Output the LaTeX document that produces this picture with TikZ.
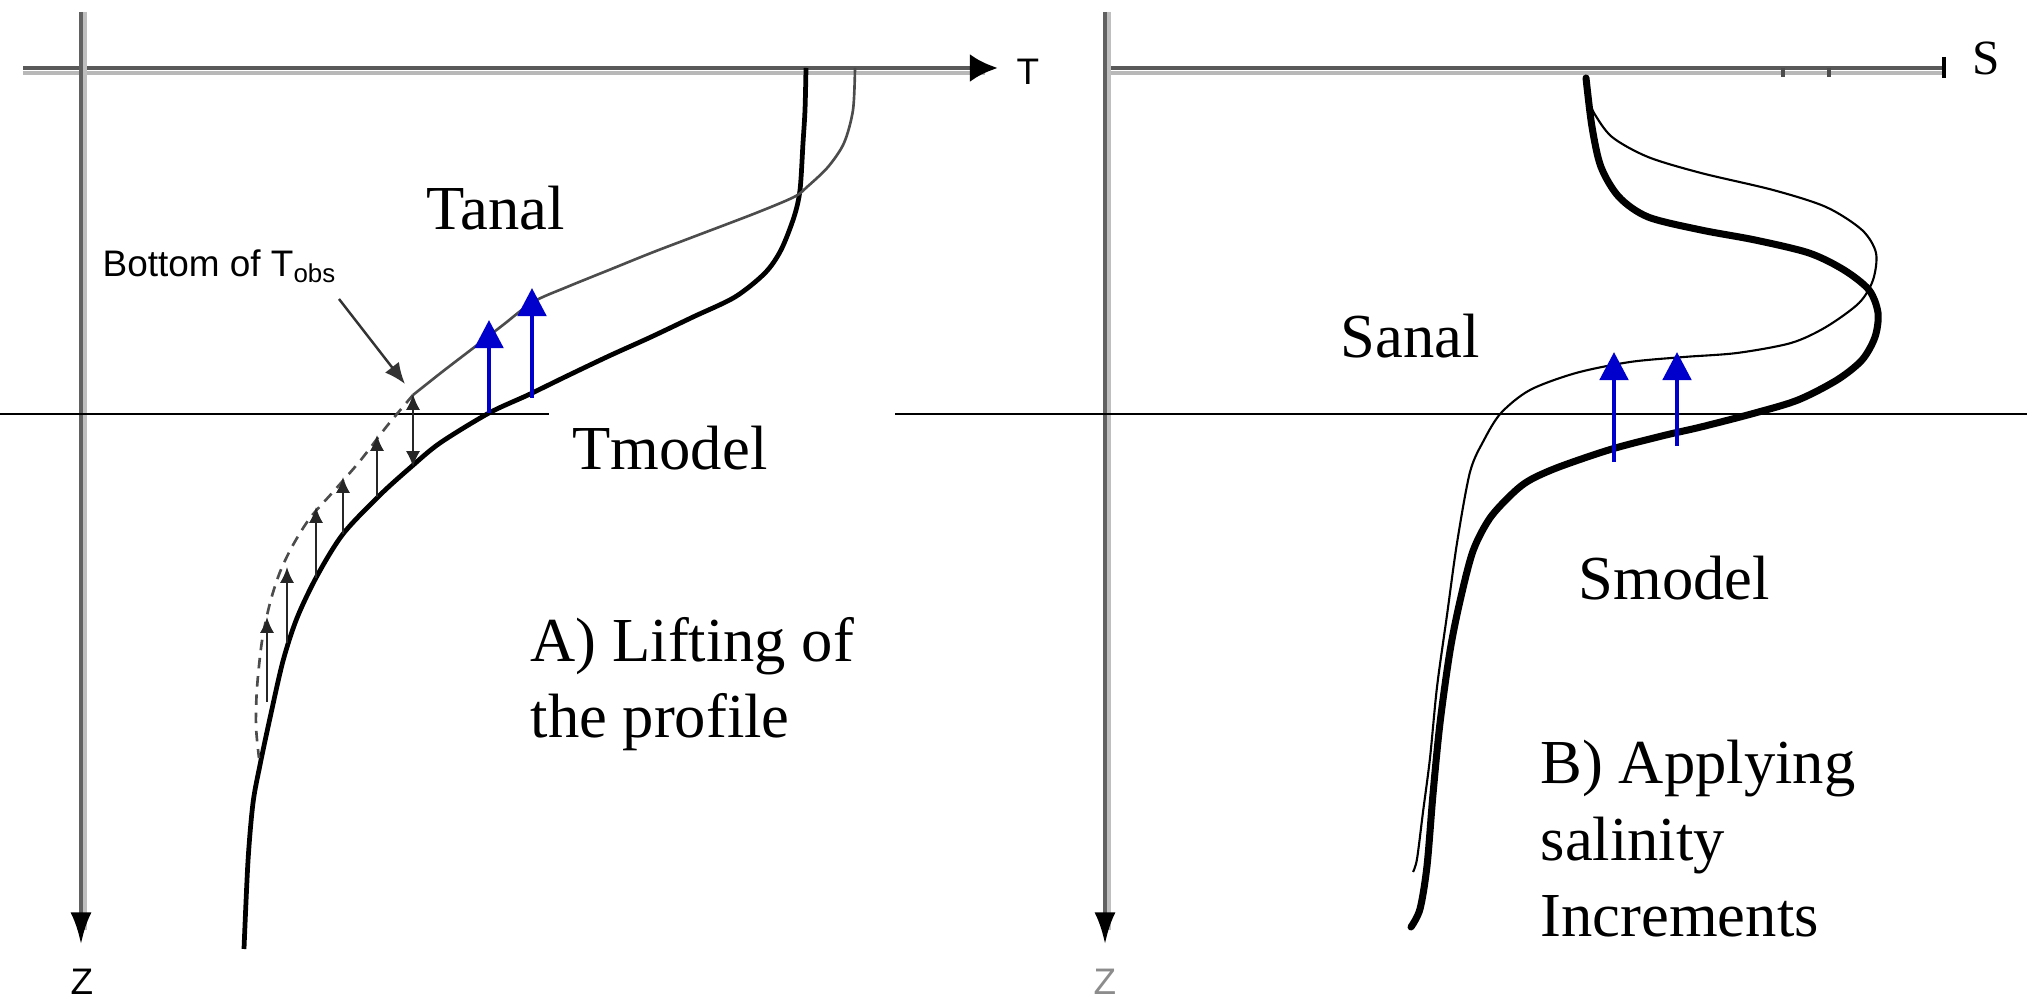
\documentclass[tikz,border=0pt]{standalone}
\usepackage{fontspec}
\setmainfont{Liberation Serif}
\newfontfamily\axisfont{Liberation Sans}
\usetikzlibrary{arrows.meta}
\definecolor{liftblue}{RGB}{0,0,205}
\tikzset{
  axisline/.style={draw=black!65, line width=1.4pt},
  axisband/.style={draw=black!28, line width=1.1pt},
  zaxis/.style={draw=black!62, line width=1.1pt},
  zband/.style={draw=black!25, line width=0.9pt},
  refline/.style={draw=black, line width=0.7pt},
  modelcurve/.style={draw=black, line width=1.35pt, line join=round},
  smodelcurve/.style={draw=black, line width=2pt, line join=round, line cap=round},
  analcurve/.style={draw=black!70, line width=0.75pt},
  analdash/.style={draw=black!70, line width=0.75pt, dash pattern=on 3pt off 2.2pt},
  sanalcurve/.style={draw=black, line width=0.6pt},
  liftarrow/.style={draw=liftblue, line width=1.4pt, -{Triangle[length=8pt,width=8pt,color=liftblue]}},
  smallarrow/.style={draw=black!85, line width=0.6pt, >={Latex[length=4.5pt,width=4pt]}, ->},
  pointer/.style={draw=black!80, line width=0.7pt, -{Latex[length=6pt,width=5pt]}},
  curvelabel/.style={font=\fontsize{17.8}{21.8}\selectfont, inner sep=0pt},
  caption/.style={curvelabel, align=left},
  axislabel/.style={font=\axisfont\fontsize{10.5}{12}\selectfont, inner sep=0pt},
  obslabel/.style={font=\axisfont\fontsize{10.5}{12}\selectfont, inner sep=0pt}
}

\begin{document}
\begin{tikzpicture}[x=0.01cm, y=-0.01cm]
  \useasboundingbox (0,0) rectangle (2027,1001);

  % panel A: temperature
  \draw[axisband] (23,73) -- (985,73);
  \draw[axisline, -{Latex[length=8pt,width=8pt,color=black]}] (23,68) -- (998,68);
  \draw[zband] (85,12) -- (85,930);
  \draw[zaxis, -{Latex[length=9pt,width=6pt,color=black]}] (81,12) -- (81,944);
  \node[axislabel, anchor=base west] (tlab) at (1016,85) {T};
  \node[axislabel] (zlab) at (82,982) {Z};
  \draw[refline] (0,414) -- (549,414);

  \draw[modelcurve] plot[smooth] coordinates {(806,68) (805,110) (803,143) (800,190) (794,217)
    (781,250) (765,273) (735,297) (693,317) (651,337) (609,356) (567,376) (528,395) (489,413)
    (440,443) (411,467) (380,495) (343,534) (317,576) (297,618) (283,661) (270,718) (260,765)
    (253,803) (248,861) (244,949)};
  \draw[analcurve] plot[smooth] coordinates {(855,68) (853,110) (844,143) (828,167) (807,187)
    (794,197) (756,213) (693,237) (651,253) (609,270) (567,287) (533,302) (503,325) (472,349)
    (442,372) (413,395)};
  \draw[analdash] plot[smooth] coordinates {(413,395) (387,426) (360,461) (333,492) (310,518)
    (293,545) (280,572) (270,603) (262,641) (257,688) (256,726) (259,758)};

  \coordinate (m1) at (413,467); \coordinate (a1) at (413,394);
  \coordinate (m2) at (377,497); \coordinate (a2) at (377,435);
  \coordinate (m3) at (343,534); \coordinate (a3) at (343,477);
  \coordinate (m4) at (316,578); \coordinate (a4) at (316,507);
  \coordinate (m5) at (287,643); \coordinate (a5) at (287,567);
  \coordinate (m6) at (267,702); \coordinate (a6) at (267,617);
  \draw[smallarrow, <->] (m1) -- (a1);
  \draw[smallarrow] (m2) -- (a2);
  \draw[smallarrow] (m3) -- (a3);
  \draw[smallarrow] (m4) -- (a4);
  \draw[smallarrow] (m5) -- (a5);
  \draw[smallarrow] (m6) -- (a6);

  \coordinate (tb1) at (489,413); \coordinate (tt1) at (489,320);
  \coordinate (tb2) at (532,398); \coordinate (tt2) at (532,288);
  \draw[liftarrow] (tb1) -- (tt1);
  \draw[liftarrow] (tb2) -- (tt2);

  \node[obslabel, anchor=base west] (obslab) at (102,277) {Bottom of T\textsubscript{obs}};
  \coordinate (ptr) at (339,299);
  \coordinate (tobs) at (405,384);
  \draw[pointer] (ptr) -- (tobs);

  \node[curvelabel, anchor=base west] (tanal) at (426,230) {Tanal};
  \node[curvelabel, anchor=base west] (tmodel) at (572,470) {Tmodel};
  \node[caption, anchor=base west] (capA) at (530,738) {A) Lifting of\\the profile};

  % panel B: salinity
  \draw[axisband] (1105,73) -- (1944,73);
  \draw[axisline] (1105,68) -- (1944,68);
  \draw[black!70, line width=0.9pt] (1783,68) -- (1783,77);
  \draw[black!70, line width=0.9pt] (1829,68) -- (1829,77);
  \draw[black, line width=1.4pt] (1944,57) -- (1944,78);
  \node[curvelabel, font=\fontsize{14}{16}\selectfont, anchor=base west] (slab) at (1972,75) {S};
  \draw[zband] (1109,12) -- (1109,930);
  \draw[zaxis, -{Latex[length=9pt,width=6pt,color=black]}] (1105,12) -- (1105,944);
  \node[axislabel, text=black!45] (zlab2) at (1105,982) {Z};
  \draw[refline] (895,414) -- (2027,414);

  \draw[smodelcurve] plot[smooth] coordinates {(1586,78) (1592,127) (1601,167) (1619,197)
    (1648,217) (1701,230) (1755,240) (1809,253) (1844,270) (1869,290) (1878,313) (1875,337)
    (1862,360) (1837,380) (1798,400) (1755,413) (1701,427) (1666,435) (1612,449) (1559,467)
    (1530,480) (1513,493) (1490,518) (1473,551) (1460,601) (1450,651) (1440,723) (1433,794)
    (1427,866) (1420,909) (1411,927)};
  \draw[sanalcurve] plot[smooth] coordinates {(1589,100) (1594,113) (1612,137) (1648,157)
    (1701,173) (1773,190) (1826,207) (1862,230) (1876,253) (1873,280) (1859,303) (1826,327)
    (1791,343) (1737,353) (1684,357) (1630,362) (1576,373) (1530,390) (1501,413) (1484,440)
    (1470,472) (1457,543) (1447,615) (1437,687) (1430,758) (1423,812) (1417,859) (1413,872)};

  \coordinate (sb1) at (1614,462); \coordinate (st1) at (1614,352);
  \coordinate (sb2) at (1677,446); \coordinate (st2) at (1677,352);
  \draw[liftarrow] (sb1) -- (st1);
  \draw[liftarrow] (sb2) -- (st2);

  \node[curvelabel, anchor=base west] (sanal) at (1340,358) {Sanal};
  \node[curvelabel, anchor=base west] (smodel) at (1578,600) {Smodel};
  \node[caption, anchor=base west] (capB) at (1540,937) {B) Applying\\salinity\\Increments};
\end{tikzpicture}
\end{document}
